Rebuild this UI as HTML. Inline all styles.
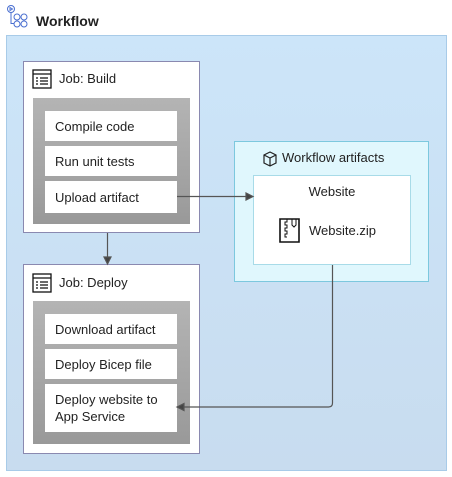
<!DOCTYPE html>
<html><head><style>
body{margin:0;width:452px;height:477px;background:#fff;position:relative;font-family:"Segoe UI","Liberation Sans",sans-serif;color:#222;overflow:hidden}
.a{position:absolute;box-sizing:border-box}
.job{background:#fff;border:1px solid #8a89b0}
.gray{background:linear-gradient(#b4b4b4,#999)}
.step{background:#fff;font-size:13px;padding-left:10px;display:flex;align-items:center;line-height:17px}
.t{font-size:13px;position:absolute}
</style></head><body>
<svg class="a" style="left:6px;top:4px" width="26" height="26" viewBox="0 0 26 26" fill="none" stroke="#4a6fd0" stroke-width="1">
<circle cx="5" cy="5" r="3.5"/><path d="M4 3.5l2.5 1.5-2.5 1.5z"/>
<circle cx="11" cy="13" r="3"/><circle cx="18" cy="13" r="3"/><circle cx="11" cy="20" r="3"/><circle cx="18" cy="20" r="3"/>
<path d="M5 8.5v11h3"/></svg>
<div class="a" style="left:36px;top:13px;font-size:14px;font-weight:bold;color:#222">Workflow</div>
<div class="a" style="left:6px;top:35px;width:441px;height:436px;background:linear-gradient(#cce5f9,#c8dcef);border:1px solid #a8cbe8"></div>

<div class="a job" style="left:23px;top:61px;width:177px;height:172px"></div>
<svg class="a" style="left:32px;top:69px" width="20" height="20" viewBox="0 0 20 20" fill="none" stroke="#111" stroke-width="1.3"><rect x="1" y="1" width="18" height="18"/><path d="M1 5h18M4 9h2M8 9h8M4 12h2M8 12h8M4 15h2M8 15h8"/></svg>
<div class="t" style="left:59px;top:71px">Job: Build</div>
<div class="a gray" style="left:33px;top:98px;width:157px;height:126px"></div>
<div class="a step" style="left:45px;top:111px;width:132px;height:30px">Compile code</div>
<div class="a step" style="left:45px;top:146px;width:132px;height:30px">Run unit tests</div>
<div class="a step" style="left:45px;top:181px;width:132px;height:32px">Upload artifact</div>

<div class="a job" style="left:23px;top:264px;width:177px;height:190px"></div>
<svg class="a" style="left:32px;top:273px" width="20" height="20" viewBox="0 0 20 20" fill="none" stroke="#111" stroke-width="1.3"><rect x="1" y="1" width="18" height="18"/><path d="M1 5h18M4 9h2M8 9h8M4 12h2M8 12h8M4 15h2M8 15h8"/></svg>
<div class="t" style="left:59px;top:275px">Job: Deploy</div>
<div class="a gray" style="left:33px;top:301px;width:157px;height:143px"></div>
<div class="a step" style="left:45px;top:314px;width:132px;height:30px">Download artifact</div>
<div class="a step" style="left:45px;top:349px;width:132px;height:30px">Deploy Bicep file</div>
<div class="a step" style="left:45px;top:384px;width:132px;height:48px">Deploy website to<br>App Service</div>

<div class="a" style="left:234px;top:141px;width:195px;height:141px;background:#e0f7fd;border:1px solid #7cc8de"></div>
<svg class="a" style="left:262px;top:151px" width="16" height="16" viewBox="0 0 16 16" fill="none" stroke="#222" stroke-width="1.2"><path d="M8 1l6 3v8l-6 3-6-3V4z M2 4l6 3 6-3 M8 7v8"/></svg>
<div class="t" style="left:282px;top:150px">Workflow artifacts</div>
<div class="a" style="left:253px;top:175px;width:158px;height:90px;background:#fff;border:1px solid #a8dbe8"></div>
<div class="t" style="left:253px;width:158px;text-align:center;top:184px">Website</div>
<svg class="a" style="left:279px;top:218px" width="22" height="26" viewBox="0 0 22 26" fill="none" stroke="#111" stroke-width="1.6"><path d="M1 1h19v23H1z"/><path d="M8 1v3h-2v3h2v3h-2v3h2v3h-2v3h2" stroke-width="1"/><path d="M13 1v6l2 2 2-2V1" stroke-width="1"/></svg>
<div class="t" style="left:309px;top:223px">Website.zip</div>

<svg class="a" style="left:0;top:0" width="452" height="477" fill="none" stroke="#555" stroke-width="1.2">
<path d="M177 196.5H247"/><path d="M253 196.5l-7-3.5v7z" fill="#444"/>
<path d="M107.5 233V258"/><path d="M107.5 264l-3.5-7h7z" fill="#444"/>
<path d="M332.5 265V403q0 4-4 4H183"/><path d="M177 407l7-3.5v7z" fill="#444"/>
</svg>
</body></html>
